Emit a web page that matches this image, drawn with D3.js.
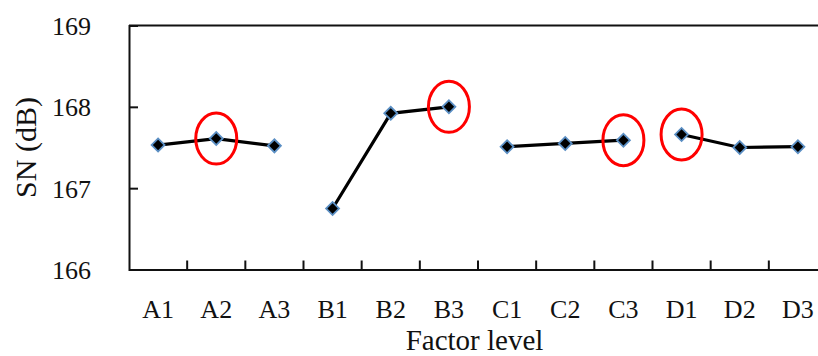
<!DOCTYPE html>
<html>
<head>
<meta charset="utf-8">
<script src="https://cdn.jsdelivr.net/npm/d3@7"></script>
<style>
  html, body { margin: 0; padding: 0; background: #fff; }
  svg { display: block; }
  text { font-family: "Liberation Serif", "Times New Roman", serif; fill: #111; }
</style>
</head>
<body>
<svg id="chart" width="818" height="356"></svg>
<script>
// Factor levels (four factors, three levels each) and mean S/N ratio per level
const factors = ["A", "B", "C", "D"];
const levels = ["A1", "A2", "A3", "B1", "B2", "B3", "C1", "C2", "C3", "D1", "D2", "D3"];
const snValues = [167.53, 167.61, 167.52, 166.75, 167.92, 168.00, 167.51, 167.55, 167.59, 167.66, 167.50, 167.51];
const yTicks = [166, 167, 168, 169];
// Optimal level of each factor, circled
const optimalLevels = ["A2", "B3", "C3", "D1"];

const svg = d3.select("#chart");
const margin = { left: 129, top: 25.5, right: -9, bottom: 86.5 };
const W = 818, H = 356;
const x0 = margin.left, x1 = W - margin.right;
const y0 = margin.top, y1 = H - margin.bottom;

const x = d3.scaleBand().domain(levels).range([x0, x1]).paddingInner(0).paddingOuter(0);
const y = d3.scaleLinear().domain([166, 169]).range([y1, y0]);

const data = levels.map((lv, i) => ({ level: lv, factor: lv[0], value: snValues[i] }));
const cx = d => x(d.level) + x.bandwidth() / 2;

// Frame: top and right edges
svg.append("path")
  .attr("d", `M${x0},${y0}H${x1}V${y1}`)
  .attr("fill", "none").attr("stroke", "#111").attr("stroke-width", 2);

// Left axis with inward ticks
const yAxis = svg.append("g").attr("transform", `translate(${x0},0)`)
  .call(d3.axisLeft(y).tickValues(yTicks).tickFormat(d3.format("d")).tickSize(-9).tickPadding(0));
yAxis.select(".domain").attr("stroke", "#111").attr("stroke-width", 2);
yAxis.selectAll(".tick line").attr("stroke", "#111").attr("stroke-width", 2);
yAxis.selectAll(".tick text")
  .attr("x", -38).attr("dy", "0.34em")
  .style("font-size", "26px").attr("fill", "#111").style("font-family", "Liberation Serif, serif");

// Bottom axis: labels at band centres, ticks on band boundaries pointing up
const xAxis = svg.append("g").attr("transform", `translate(0,${y1})`)
  .call(d3.axisBottom(x).tickSize(0).tickPadding(0));
xAxis.select(".domain").attr("stroke", "#111").attr("stroke-width", 2);
xAxis.selectAll(".tick text")
  .attr("y", 48.5).attr("dy", 0)
  .style("font-size", "26px").attr("fill", "#111").style("font-family", "Liberation Serif, serif");

svg.append("g").selectAll("line")
  .data(levels.slice(1))
  .join("line")
  .attr("x1", d => x(d)).attr("x2", d => x(d))
  .attr("y1", y1).attr("y2", y1 - 9)
  .attr("stroke", "#111").attr("stroke-width", 2);

// Axis titles
svg.append("text")
  .attr("x", (x0 + 818) / 2 + 1).attr("y", 350)
  .attr("text-anchor", "middle")
  .style("font-size", "29px")
  .text("Factor level");

svg.append("text")
  .attr("transform", `translate(36,${(y0 + y1) / 2}) rotate(-90)`)
  .attr("text-anchor", "middle")
  .style("font-size", "30px")
  .text("SN (dB)");

// One polyline per factor
const line = d3.line().x(cx).y(d => y(d.value));
svg.append("g").selectAll("path")
  .data(factors.map(f => data.filter(d => d.factor === f)))
  .join("path")
  .attr("d", line)
  .attr("fill", "none").attr("stroke", "#000").attr("stroke-width", 3.2);

// Diamond markers
const diamond = d3.symbol().type(d3.symbolSquare).size(84);
svg.append("g").selectAll("path")
  .data(data)
  .join("path")
  .attr("d", diamond)
  .attr("transform", d => `translate(${cx(d)},${y(d.value)}) rotate(45)`)
  .attr("fill", "#000").attr("stroke", "#5b8fc4").attr("stroke-width", 1.8);

// Red ellipses around the optimal levels
svg.append("g").selectAll("ellipse")
  .data(data.filter(d => optimalLevels.includes(d.level)))
  .join("ellipse")
  .attr("cx", cx).attr("cy", d => y(d.value))
  .attr("rx", 20.5).attr("ry", 25.5)
  .attr("fill", "none").attr("stroke", "#f00").attr("stroke-width", 3);
</script>
</body>
</html>
